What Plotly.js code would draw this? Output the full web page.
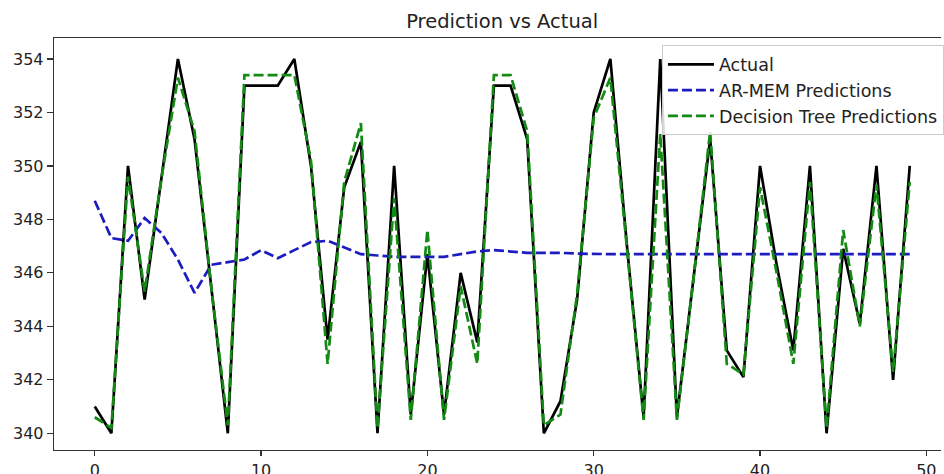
<!DOCTYPE html>
<html>
<head>
<meta charset="utf-8">
<script src="https://cdn.plot.ly/plotly-3.0.1.min.js"></script>
<style>
html, body { margin: 0; padding: 0; overflow: hidden; background: #fff; }
#chart { width: 944px; height: 474px; }
</style>
</head>
<body>
<div id="chart"></div>
<script>
// Index 0..49
const xIndex = Array.from({length: 50}, (_, i) => i);

const actual = [341, 340, 350, 345, 349.5, 354, 351, 345.5, 340, 353,
  353, 353, 354, 350, 343.5, 349.2, 350.9, 340, 350, 340.7,
  346.7, 340.7, 346, 343.4, 353, 353, 351, 340, 341.2, 345,
  352, 354, 347, 340.6, 354, 340.6, 345.8, 351, 343.1, 342.1,
  350, 346.3, 343.1, 350, 340, 346.9, 344.1, 350, 342, 350];

const arMem = [348.7, 347.3, 347.2, 348.05, 347.5, 346.5, 345.25, 346.3, 346.4, 346.5,
  346.85, 346.55, 346.85, 347.15, 347.2, 346.95, 346.7, 346.65, 346.6, 346.6,
  346.6, 346.6, 346.7, 346.8, 346.85, 346.8, 346.75, 346.75, 346.75, 346.72,
  346.7, 346.7, 346.7, 346.7, 346.7, 346.72, 346.72, 346.72, 346.72, 346.72,
  346.72, 346.72, 346.72, 346.7, 346.7, 346.7, 346.7, 346.7, 346.7, 346.7];

const decisionTree = [340.6, 340.2, 349.6, 345.3, 349.5, 353.3, 351.3, 345.5, 340.3, 353.4,
  353.4, 353.4, 353.4, 350.2, 342.6, 349.4, 351.6, 340.2, 348.8, 340.5,
  347.6, 340.5, 345.5, 342.6, 353.4, 353.4, 351.3, 340.3, 340.7, 345.2,
  351.8, 353.3, 347, 340.5, 351.2, 340.5, 345.8, 351.3, 342.6, 342.2,
  349.2, 346, 342.6, 349.4, 340.2, 347.6, 344, 349.3, 342.3, 349.4];

const seriesNames = ["Actual", "AR-MEM Predictions", "Decision Tree Predictions"];
const xTicks = [0, 10, 20, 30, 40, 50];
const yTicks = [340, 342, 344, 346, 348, 350, 352, 354];

const font = "DejaVu Sans, sans-serif";

const traces = [
  {x: xIndex, y: actual, name: seriesNames[0], mode: "lines", legendgroup: "a",
   line: {color: "#000000", width: 2.7}},
  {x: xIndex, y: arMem, name: seriesNames[1], mode: "lines", legendgroup: "b",
   line: {color: "#1c1cc0", width: 2.7, dash: "10px,4px"}},
  {x: xIndex, y: decisionTree, name: seriesNames[2], mode: "lines", legendgroup: "c",
   line: {color: "#138a13", width: 2.7, dash: "10px,4px"}}
];

const layout = {
  width: 944, height: 474,
  margin: {l: 54, r: 0, t: 38, b: 24},
  paper_bgcolor: "#ffffff", plot_bgcolor: "#ffffff",
  font: {family: font, size: 16, color: "#222"},
  title: {text: "Prediction vs Actual", font: {family: font, size: 19.5, color: "#222"},
          xref: "paper", x: 0.5053, xanchor: "center",
          yref: "container", y: 0.955, yanchor: "middle"},
  showlegend: true,
  legend: {x: 0.6854, xanchor: "left", y: 0.982, yanchor: "top",
           bgcolor: "rgba(255,255,255,0.85)", bordercolor: "#cccccc", borderwidth: 1,
           font: {family: font, size: 17.5, color: "#222"},
           itemwidth: 46,
           traceorder: "grouped", tracegroupgap: 0},
  xaxis: {range: [-2.45, 50.88], tickvals: xTicks, ticktext: xTicks.map(String),
          showgrid: false, zeroline: false, showline: true, linecolor: "#333", linewidth: 1.3,
          mirror: true, ticks: "outside", ticklen: 5, tickcolor: "#333", tickwidth: 1.2,
          tickfont: {family: font, size: 16, color: "#222"}},
  yaxis: {range: [339.375, 354.785], tickvals: yTicks, ticktext: yTicks.map(String),
          showgrid: false, zeroline: false, showline: true, linecolor: "#333", linewidth: 1.3,
          mirror: false, ticks: "outside", ticklen: 6, tickcolor: "#333", tickwidth: 1.2,
          tickfont: {family: font, size: 16, color: "#222"}}
};

Plotly.newPlot("chart", traces, layout, {displayModeBar: false, staticPlot: true});
</script>
</body>
</html>
